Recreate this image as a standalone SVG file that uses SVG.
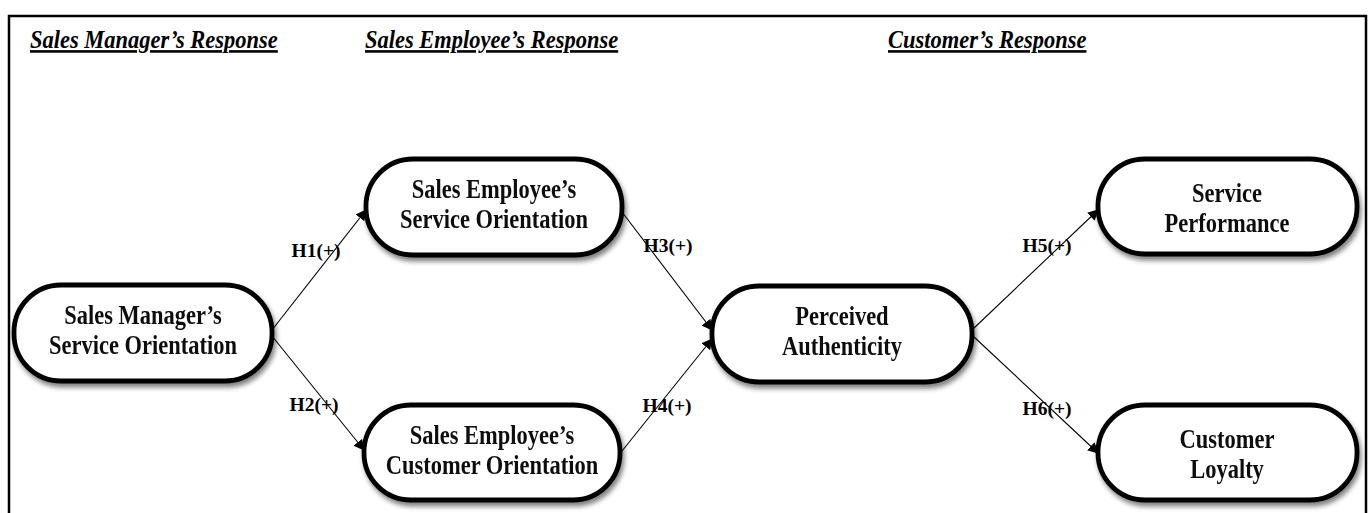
<svg xmlns="http://www.w3.org/2000/svg" width="1371" height="513" viewBox="0 0 1371 513">
<style>
.frame{fill:none;stroke:#000;stroke-width:2.5}
.hdr{font-family:"Liberation Serif",serif;font-size:22.5px;font-weight:bold;font-style:italic;text-decoration:underline;fill:#000}
.node rect{fill:#fff;stroke:#000;stroke-width:4.8}
.node text{font-family:"Liberation Serif",serif;font-size:22.5px;font-weight:bold;fill:#111;text-anchor:middle}
.edge{stroke:#000;stroke-width:1.1;fill:none;marker-end:url(#ah)}
.lbl{font-family:"Liberation Serif",serif;font-size:19.5px;font-weight:bold;fill:#000;text-anchor:middle}
</style>
<defs>
<marker id="ah" viewBox="0 0 10 10" refX="9" refY="5" markerWidth="11" markerHeight="11" markerUnits="userSpaceOnUse" orient="auto">
<path d="M0,0 L10,5 L0,10 z" fill="#000"/>
</marker>
<filter id="sh" x="-10%" y="-20%" width="125%" height="150%">
<feGaussianBlur in="SourceAlpha" stdDeviation="2.5"/>
<feOffset dx="2" dy="4" result="b"/>
<feComponentTransfer><feFuncA type="linear" slope="0.5"/></feComponentTransfer>
<feMerge><feMergeNode/><feMergeNode in="SourceGraphic"/></feMerge>
</filter>
</defs>
<rect width="1371" height="513" fill="#fff"/>
<path class="frame" d="M9,520 V16 H1366 V520"/>
<g id="headers">
<text class="hdr" transform="translate(30,48) scale(1,1.15)">Sales Manager’s Response</text>
<text class="hdr" transform="translate(365,48) scale(1,1.15)">Sales Employee’s Response</text>
<text class="hdr" transform="translate(888,48) scale(1,1.15)">Customer’s Response</text>
</g>
<g id="connectors">
<line class="edge" x1="272" y1="330" x2="366" y2="210"/>
<line class="edge" x1="272" y1="336" x2="364" y2="450"/>
<line class="edge" x1="622" y1="212" x2="712" y2="330"/>
<line class="edge" x1="622" y1="451" x2="712" y2="339"/>
<line class="edge" x1="973" y1="329" x2="1098" y2="210"/>
<line class="edge" x1="973" y1="336" x2="1098" y2="453"/>
<text class="lbl" x="316" y="257">H1(+)</text>
<text class="lbl" x="314" y="411">H2(+)</text>
<text class="lbl" x="668" y="252">H3(+)</text>
<text class="lbl" x="667" y="412">H4(+)</text>
<text class="lbl" x="1047" y="252">H5(+)</text>
<text class="lbl" x="1047" y="415">H6(+)</text>
</g>
<g id="n_sm" class="node" filter="url(#sh)">
<rect x="14" y="285" width="258" height="96" rx="47" ry="47"/>
<text transform="translate(143,324) scale(1,1.2)">Sales Manager’s</text>
<text transform="translate(143,354) scale(1,1.2)">Service Orientation</text>
</g>
<g id="n_seso" class="node" filter="url(#sh)">
<rect x="366" y="159" width="256" height="96" rx="47" ry="47"/>
<text transform="translate(494,198) scale(1,1.2)">Sales Employee’s</text>
<text transform="translate(494,228) scale(1,1.2)">Service Orientation</text>
</g>
<g id="n_seco" class="node" filter="url(#sh)">
<rect x="364" y="405" width="256" height="95" rx="47" ry="47"/>
<text transform="translate(492,444) scale(1,1.2)">Sales Employee’s</text>
<text transform="translate(492,474) scale(1,1.2)">Customer Orientation</text>
</g>
<g id="n_pa" class="node" filter="url(#sh)">
<rect x="712" y="286" width="260" height="96" rx="47" ry="47"/>
<text transform="translate(842,325) scale(1,1.2)">Perceived</text>
<text transform="translate(842,355) scale(1,1.2)">Authenticity</text>
</g>
<g id="n_sp" class="node" filter="url(#sh)">
<rect x="1098" y="159" width="259" height="95" rx="47" ry="47"/>
<text transform="translate(1227,202) scale(1,1.2)">Service</text>
<text transform="translate(1227,232) scale(1,1.2)">Performance</text>
</g>
<g id="n_cl" class="node" filter="url(#sh)">
<rect x="1098" y="405" width="259" height="95" rx="47" ry="47"/>
<text transform="translate(1227,448) scale(1,1.2)">Customer</text>
<text transform="translate(1227,478) scale(1,1.2)">Loyalty</text>
</g>
</svg>
